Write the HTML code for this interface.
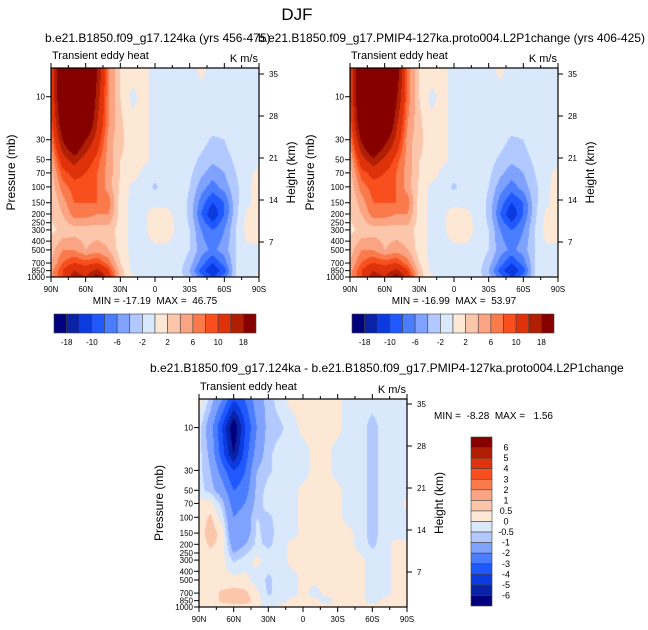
<!DOCTYPE html>
<html><head><meta charset="utf-8">
<style>
html,body{margin:0;padding:0;background:#fff;}
#wrap{position:relative;width:648px;height:630px;overflow:hidden;font-family:"Liberation Sans",sans-serif;}
canvas,svg{position:absolute;left:0;top:0;}
text{font-family:"Liberation Sans",sans-serif;fill:#000;white-space:pre;}
</style></head>
<body>
<div id="wrap">
<canvas id="cv" width="648" height="630"></canvas>
<svg id="sv" width="648" height="630" xml:space="preserve"></svg>
</div>
<script>
// ---- data ----
const lats = [90,80,70,60,50,40,30,20,10,0,-10,-20,-30,-40,-50,-60,-70,-80,-90];
const pLevels = [5,10,20,30,50,70,100,150,200,300,500,700,850,1000];
const levelsAbs = [-18,-14,-10,-8,-6,-4,-2,0,2,4,6,8,10,14,18];
const levelsDiff = [-6,-5,-4,-3,-2,-1,-0.5,0,0.5,1,2,3,4,5,6];
const absLabels = ["-18","-10","-6","-2","2","6","10","18"];
const diffLabels = ["6","5","4","3","2","1","0.5","0","-0.5","-1","-2","-3","-4","-5","-6"];
const pTicks = [10,30,50,70,100,150,200,250,300,400,500,700,850,1000];
const zTicks = [7,14,21,28,35];
const latTicks = [90,60,30,0,-30,-60,-90];
const latTickLabels = ["90N","60N","30N","0","30S","60S","90S"];
const colors = ["#00007f","#0a22a6","#0a3ae0","#2058ff","#4a7dff","#7fa2ff","#b2c9ff","#d9e9fb","#fde7d5","#fcc6ab","#fba483","#fa7a4c","#f94f1f","#df320a","#b01e04","#870000"];
const field1 = [
[10,25,40,35,18,6,2,1,0.5,-0.5,-0.5,-0.5,-0.5,0.3,-0.5,-0.5,-0.5,-0.5,-0.5],
[10,25,40,30,16,6,2,-0.5,0.5,-0.5,-0.5,-0.5,-0.5,-0.5,-0.5,-0.5,-0.5,-0.5,-0.5],
[8,22,35,25,14,6,2.5,0.5,0.5,-0.5,-0.5,-0.5,-0.5,-0.5,-0.5,-0.5,-0.5,-0.5,-0.5],
[6,18,26,18,12,5,2.5,1,0.5,-0.5,-0.5,-0.5,-0.5,-1,-2.5,-2,-0.5,-0.5,-0.5],
[4,12,16,12,9,5,2,1.5,0.5,-0.5,-0.5,-0.5,-1,-2.5,-3.5,-3,-1.5,-0.5,-0.5],
[3,9,11,10,8,5,2,1,-0.5,-1,-0.5,-0.5,-1.5,-3.5,-5,-4,-2,-0.5,0.5],
[2.5,7,9,9,8,5,1.5,-0.5,-0.5,-2.5,-0.5,-0.5,-2,-5,-7,-5,-2.5,-0.5,1],
[2,5,8,8,8,7,1,-0.5,-0.5,-0.5,-0.5,-0.5,-2.5,-7,-10,-8,-2.5,-0.5,1],
[2,4,7,7,6,6,1,-0.5,-0.5,1,0.5,-0.5,-2.5,-8,-12,-8,-2.5,0.5,1],
[1.5,2.5,3,3,3,3,1,-0.5,-0.5,1,1,-0.5,-2,-6,-8,-6,-2,1,1],
[3,6,6,4,5,4,1,-0.5,-0.5,-0.5,-0.5,-0.5,-2,-5,-6.5,-5,-2,-0.5,-0.5],
[4,8,10,9,10,7,2,-0.5,-0.5,-0.5,-0.5,-1,-3,-7,-10,-7,-2,-0.5,-0.5],
[5,10,14,12,15,10,3,-0.5,-0.5,-0.5,-0.5,-1,-4,-9,-12,-9,-2,-0.5,-0.5],
[5,10,16,14,20,12,3,0.5,-0.5,-0.5,-0.5,-1,-3,-7,-10,-7,-2,-0.5,0.5]];
const field2 = [
[10,26,45,40,22,7,2,1,0.5,-0.5,-0.5,-0.5,-0.5,0.3,-0.5,-0.5,-0.5,-0.5,-0.5],
[10,26,45,35,19,7,2,-0.5,0.5,-0.5,-0.5,-0.5,-0.5,-0.5,-0.5,-0.5,-0.5,-0.5,-0.5],
[8,23,38,28,15,6,2.5,0.5,0.5,-0.5,-0.5,-0.5,-0.5,-0.5,-0.5,-0.5,-0.5,-0.5,-0.5],
[6,19,28,20,13,5,2.5,1,0.5,-0.5,-0.5,-0.5,-0.5,-1,-2.5,-2,-0.5,-0.5,-0.5],
[4,12,17,13,9,5,2,1.5,0.5,-0.5,-0.5,-0.5,-1,-2.5,-3.5,-3,-1.5,-0.5,-0.5],
[3,9,11,10,8,5,2,1,-0.5,-1,-0.5,-0.5,-1.5,-3.5,-5,-4,-2,-0.5,0.5],
[2.5,7,9,9,8,5,1.5,-0.5,-0.5,-2.5,-0.5,-0.5,-2,-5,-7,-5,-2.5,-0.5,1],
[2,5,8,8,8,7,1,-0.5,-0.5,-0.5,-0.5,-0.5,-2.5,-7,-10,-8,-2.5,-0.5,1],
[2,4,7,7,6,6,1,-0.5,-0.5,1,0.5,-0.5,-2.5,-8,-12,-8,-2.5,0.5,1],
[1.5,2.5,3,3,3,3,1,-0.5,-0.5,1,1,-0.5,-2,-6,-8,-6,-2,1,1],
[3,6,6,4,5,4,1,-0.5,-0.5,-0.5,-0.5,-0.5,-2,-5,-6.5,-5,-2,-0.5,-0.5],
[4,8,10,9,10,7,2,-0.5,-0.5,-0.5,-0.5,-1,-3,-7,-10,-7,-2,-0.5,-0.5],
[5,10,14,12,15,10,3,-0.5,-0.5,-0.5,-0.5,-1,-4,-9,-12,-9,-2,-0.5,-0.5],
[5,10,16,14,20,12,3,0.5,-0.5,-0.5,-0.5,-1,-3,-7,-10,-7,-2,-0.5,0.5]];
const field3 = [
[0.3,-0.7,-2,-4,-3,-1.5,-0.7,-0.3,0.2,0.2,0.2,0.2,0.2,-0.3,-0.3,-0.3,-0.3,-0.3,-0.3],
[-0.3,-1.5,-4,-7,-4,-2,-0.7,-0.6,-0.3,0.2,0.2,0.2,0.2,-0.3,-0.3,-0.7,-0.3,-0.3,-0.3],
[-0.3,-1.2,-3.5,-6,-3.5,-1.5,-0.6,-0.3,-0.3,-0.3,0.2,0.2,-0.3,-0.3,-0.3,-0.7,-0.3,-0.3,-0.3],
[-0.3,-1,-2.5,-4,-3,-1,-0.6,-0.3,-0.3,-0.3,0.2,0.2,-0.3,-0.3,-0.3,-0.7,-0.3,-0.3,-0.3],
[-0.3,-0.7,-1.5,-3,-2.5,-0.8,-0.3,-0.3,-0.3,0.2,0.2,0.2,0.2,-0.3,-0.3,-0.7,-0.3,-0.3,-0.3],
[0.2,0.2,-0.7,-2.5,-2,-0.7,-0.3,-0.3,-0.3,0.2,0.2,0.2,0.2,-0.3,-0.3,-0.7,-0.3,-0.3,0.2],
[0.2,0.6,-0.3,-2,-1.5,-0.5,-0.6,-0.3,-0.3,0.2,0.2,0.2,0.2,-0.3,-0.3,-0.7,-0.3,-0.3,-0.3],
[0.2,0.8,0.3,-2,-1.5,-0.4,-0.7,-0.3,-0.3,0.2,0.2,0.2,0.2,0.2,-0.3,-0.7,-0.3,-0.3,-0.3],
[0.2,0.6,0.3,-1.5,-1,-0.4,-0.6,-0.3,0.2,0.2,0.2,0.2,0.2,0.2,-0.3,-0.6,-0.3,0.2,0.2],
[0.2,0.2,0.2,-0.6,-0.3,0.2,-0.3,-0.3,0.2,0.2,0.2,0.2,0.2,0.2,0.2,-0.3,-0.3,0.2,0.2],
[0.2,0.2,0.2,0.2,0.2,-0.3,-0.6,-0.3,-0.3,0.2,0.2,0.2,0.2,0.2,0.2,-0.3,-0.3,0.2,0.2],
[0.2,0.3,0.6,0.7,0.6,0.2,-0.6,-0.3,-0.3,0.2,-0.3,0.2,0.2,0.2,0.2,-0.3,-0.3,0.2,0.2],
[0.2,0.2,0.6,0.7,0.8,0.2,-0.3,-0.3,0.2,0.2,0.2,-0.3,0.2,0.2,0.2,-0.3,0.2,0.2,0.2],
[0.2,0.2,0.3,0.3,0.2,0.2,-0.3,0.2,0.2,0.2,0.2,0.2,0.2,0.2,0.2,0.2,0.2,0.2,0.2]];

// ---- rendering ----
const NS="http://www.w3.org/2000/svg";
const sv=document.getElementById('sv');
const ctx=document.getElementById('cv').getContext('2d');
function el(tag,attrs,parent){const e=document.createElementNS(NS,tag);for(const k in attrs)e.setAttribute(k,attrs[k]);(parent||sv).appendChild(e);return e;}
function txt(x,y,s,size,anchor,parent,extra){const t=el('text',Object.assign({x:x,y:y,'font-size':size,'text-anchor':anchor||'start'},extra||{}),parent);t.textContent=s;return t;}

const pTop=4.8, pBot=1000;
function interp(field,lat,lp){
  let fi=(90-lat)/10; fi=Math.max(0,Math.min(lats.length-1.0001,fi));
  const i0=Math.floor(fi), fx=fi-i0;
  const lps=pLevels.map(p=>Math.log10(p));
  let j0=0; while(j0<lps.length-2 && lp>lps[j0+1]) j0++;
  let fy=(lp-lps[j0])/(lps[j0+1]-lps[j0]); fy=Math.max(0,Math.min(1,fy));
  const a=field[j0][i0],b=field[j0][i0+1],c=field[j0+1][i0],d=field[j0+1][i0+1];
  return (a*(1-fx)+b*fx)*(1-fy)+(c*(1-fx)+d*fx)*fy;
}
function binColor(v,levels){let k=0;while(k<levels.length&&v>=levels[k])k++;return colors[k];}

function panel(name,x0,y0,w,h,field,levels,opts){
  const g=el('g',{});
  
  
  const xOf=lat=>x0+(90-lat)/180*w;
  const yOf=p=>y0+(Math.log10(p)-Math.log10(pTop))/(Math.log10(pBot)-Math.log10(pTop))*h;
  for(let py=0;py<h;py++){
    const lp=Math.log10(pTop)+(py+0.5)/h*(Math.log10(pBot)-Math.log10(pTop));
    for(let px=0;px<w;px++){
      const lat=90-(px+0.5)/w*180;
      ctx.fillStyle=binColor(interp(field,lat,lp),levels);
      ctx.fillRect(x0+px,y0+py,1,1);
    }
  }
  el('rect',{x:x0,y:y0,width:w,height:h,fill:'none',stroke:'#000','stroke-width':1.2},g);
  for(let lat=90;lat>=-90;lat-=15){
    const x=xOf(lat);const major=lat%30===0;const L=major?5:3;
    el('line',{x1:x,y1:y0+h,x2:x,y2:y0+h+L,stroke:'#000'},g);
    el('line',{x1:x,y1:y0,x2:x,y2:y0-L,stroke:'#000'},g);
  }
  latTicks.forEach((lat,i)=>{const t=txt(xOf(lat),y0+h+15,latTickLabels[i],8,'middle',g);});
  pTicks.forEach(p=>{const y=yOf(p);el('line',{x1:x0,y1:y,x2:x0-5,y2:y,stroke:'#000'},g);
    const t=txt(x0-6,y+3,String(p),8,'end',g);});
  zTicks.forEach(z=>{const y=y0+h+7-6*z;el('line',{x1:x0+w,y1:y,x2:x0+w+5,y2:y,stroke:'#000'},g);
    const t=txt(x0+w+10,y+3,String(z),8,'start',g);});
  const cy=y0+h/2;
  const yl=txt(0,0,'Pressure (mb)',12,'middle',g,{transform:`translate(${x0-36},${cy}) rotate(-90)`});
  
  const yr=txt(0,0,'Height (km)',12,'middle',g,{transform:`translate(${x0+w+36},${cy}) rotate(-90)`});
  
  const lt=txt(x0+1,y0-9,'Transient eddy heat',11,'start',g);
  const ut=txt(x0+w-1,y0-6,'K m/s',11,'end',g);
  const mm=txt(opts.mmx,opts.mmy,opts.mm,10,opts.mma,g);
}
function hbar(name,x0,y0,w,h){
  const g=el('g',{});
  const bw=w/colors.length;
  colors.forEach((c,i)=>{const r=el('rect',{x:x0+i*bw,y:y0,width:bw,height:h,fill:c,stroke:'#444','stroke-width':0.6},g);
    });
  absLabels.forEach((s,i)=>{const t=txt(x0+(1+2*i)*bw,y0+h+12,s,8,'middle',g);});
}
function vbar(name,x0,y0,w,h){
  const g=el('g',{});
  const bh=h/colors.length;
  colors.slice().reverse().forEach((c,i)=>{const r=el('rect',{x:x0,y:y0+i*bh,width:w,height:bh,fill:c,stroke:'#444','stroke-width':0.6},g);
    });
  diffLabels.forEach((s,i)=>{const t=txt(x0+w+14,y0+(i+1)*bh+3,s,9,'middle',g);});
}

const t0=txt(297,20,'DJF',17,'middle');
const t1=txt(45,42,'b.e21.B1850.f09_g17.124ka (yrs 456-475)',12,'start');
const t2=txt(258,42,'b.e21.B1850.f09_g17.PMIP4-127ka.proto004.L2P1change (yrs 406-425)',12,'start');
const t3=txt(150,372,'b.e21.B1850.f09_g17.124ka - b.e21.B1850.f09_g17.PMIP4-127ka.proto004.L2P1change',12,'start');

panel('left-panel',51,68,208,209,field1,levelsAbs,{mm:'MIN = -17.19  MAX =  46.75',mmx:155,mmy:304,mma:'middle'});
panel('right-panel',350,68,208,209,field2,levelsAbs,{mm:'MIN = -16.99  MAX =  53.97',mmx:454,mmy:304,mma:'middle'});
panel('diff-panel',199,399,208,208,field3,levelsDiff,{mm:'MIN =  -8.28  MAX =   1.56',mmx:434,mmy:419,mma:'start'});
hbar('left-colorbar',54,314,202,19);
hbar('right-colorbar',352,314,202,19);
vbar('diff-colorbar',471,437,21,169);
</script>
</body></html>
